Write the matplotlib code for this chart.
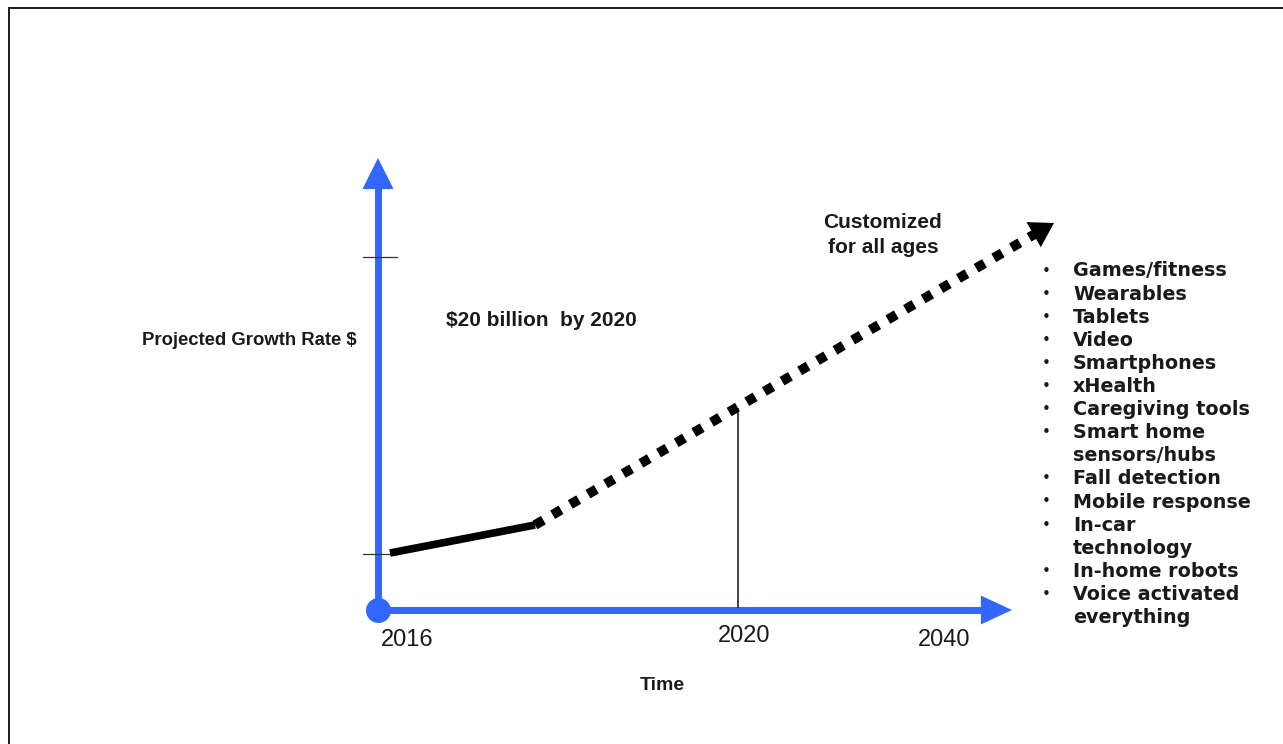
import matplotlib.pyplot as plt
from matplotlib.lines import Line2D
from matplotlib.patches import FancyArrowPatch

# growth path (axis units: offset from origin)
current_x = [12, 157]
current_y = [57, 85]
projected_x = [157, 662]
projected_y = [85, 379]
arrow_tip = (676, 387)

marker_2020_x = 360
growth_ticks = [56, 353]

year_labels = ['2016', '2020', '2040']
year_pos = [29, 366, 566]
year_off = [-30, -26, -30]

segments = ['Games/fitness', 'Wearables', 'Tablets', 'Video', 'Smartphones',
            'xHealth', 'Caregiving tools', 'Smart home\nsensors/hubs',
            'Fall detection', 'Mobile response', 'In-car\ntechnology',
            'In-home robots', 'Voice activated\neverything']

W, H = 1283, 744
blue = '#3366ff'
ink = '#1a1a1a'

fig = plt.figure(figsize=(W / 100, H / 100), dpi=100)
fig.patch.set_facecolor('white')

# outer frame (top and left edges only)
fig.add_artist(Line2D([9 / W, 9 / W], [0, 1 - 8 / H], color=ink, lw=1.4))
fig.add_artist(Line2D([9 / W, 1], [1 - 8 / H, 1 - 8 / H], color=ink, lw=1.4))

ax = fig.add_axes([378 / W, (H - 610) / H, 632 / W, 452 / H])
ax.set_xlim(0, 632)
ax.set_ylim(0, 452)
ax.axis('off')


def head(start, tip, color, length, width, scale):
    ax.add_patch(FancyArrowPatch(start, tip,
                                 arrowstyle=f'-|>,head_length={length},head_width={width}',
                                 mutation_scale=scale, color=color, lw=0, clip_on=False,
                                 shrinkA=0, shrinkB=0))


# blue axes with arrowheads
ax.plot([0, 0], [0, 435], color=blue, lw=5, solid_capstyle='butt', clip_on=False)
ax.plot([0, 615], [0, 0], color=blue, lw=5, solid_capstyle='butt', clip_on=False)
head((0, 420), (0, 452), blue, 1.4, 0.7, 16)
head((600, 0), (634, 0), blue, 1.4, 0.65, 16)
ax.plot([0], [0], 'o', color=blue, ms=17, clip_on=False)

for t in growth_ticks:
    ax.plot([-15, 19], [t, t], color='#333333', lw=0.9, clip_on=False)

ax.plot([marker_2020_x, marker_2020_x], [3, 201], color='#222222', lw=1.2)

# actual growth and projection
ax.plot(current_x, current_y, color='black', lw=5.5, solid_capstyle='butt', clip_on=False)
ax.plot(projected_x, projected_y, color='black', lw=7, linestyle=(0, (1.0, 1.1)),
        dash_capstyle='butt', clip_on=False)
head((projected_x[-1], projected_y[-1]), arrow_tip, 'black', 1.3, 0.8, 13)

for lab, xp, yo in zip(year_labels, year_pos, year_off):
    ax.text(xp, yo, lab, ha='center', va='center', fontsize=17,
            family='Liberation Sans', color=ink)


def px(x, y):
    return x / W, 1 - y / H


sans = 'Liberation Sans'
fig.text(*px(249, 341), 'Projected Growth Rate $', ha='center', va='center',
         fontsize=13.3, fontweight='bold', family=sans, color=ink)
fig.text(*px(541, 321), '$20 billion  by 2020', ha='center', va='center',
         fontsize=15, fontweight='bold', family=sans, color=ink)
fig.text(*px(883, 235), 'Customized\nfor all ages', ha='center', va='center',
         fontsize=15, fontweight='bold', family=sans, color=ink, linespacing=1.4)
fig.text(*px(662, 686), 'Time', ha='center', va='center',
         fontsize=14, fontweight='bold', family=sans, color=ink)

# bulleted list of segments
row = 0
for item in segments:
    lines = item.split('\n')
    fig.text(*px(1046, 271 + 23.1 * row), '\u2022', ha='center', va='center',
             fontsize=11, family='DejaVu Sans', color=ink)
    for ln in lines:
        fig.text(*px(1073, 271 + 23.1 * row), ln, ha='left', va='center',
                 fontsize=13.8, fontweight='bold', family='DejaVu Sans', color=ink)
        row += 1

fig.savefig('out.png', dpi=100, facecolor='white')
